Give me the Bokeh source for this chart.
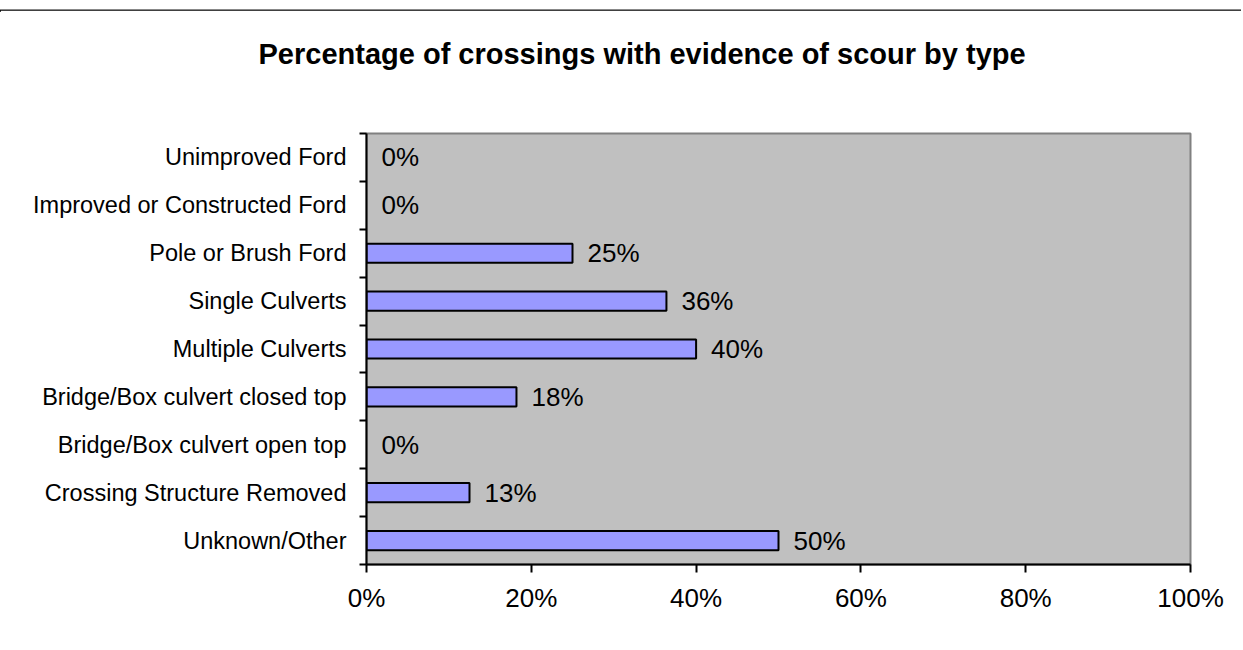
from bokeh.plotting import figure
from bokeh.models import Range1d, FixedTicker, PrintfTickFormatter, Title, Div
from bokeh.layouts import column
from bokeh.core.properties import value
from bokeh.embed import file_html
from bokeh.resources import INLINE

title = "Percentage of crossings with evidence of scour by type"
categories = [
    "Unimproved Ford",
    "Improved or Constructed Ford",
    "Pole or Brush Ford",
    "Single Culverts",
    "Multiple Culverts",
    "Bridge/Box culvert closed top",
    "Bridge/Box culvert open top",
    "Crossing Structure Removed",
    "Unknown/Other",
]
percent = [0, 0, 25, 36.4, 40, 18.2, 0, 12.5, 50]
x_ticks = [0, 20, 40, 60, 80, 100]

FONT = "Liberation Sans"
n = len(categories)
ycent = [n - 1 - i + 0.5 for i in range(n)]
labels = ["%d%%" % int(v + 0.5) for v in percent]

p = figure(width=1243, height=640, output_backend="svg", toolbar_location=None,
           title=None, x_range=Range1d(0, 100), y_range=Range1d(0, n),
           min_border_left=366, min_border_right=53, min_border_top=123,
           min_border_bottom=86)
p.background_fill_color = "#C0C0C0"
p.border_fill_color = "white"
p.outline_line_color = "#808080"
p.outline_line_width = 2
p.xgrid.visible = False
p.ygrid.visible = False

bx = [v for v in percent if v > 0]
by = [y for y, v in zip(ycent, percent) if v > 0]
p.hbar(y=by, right=bx, left=0, height=0.4, fill_color="#9999FF",
       line_color="black", line_width=2)

p.text(x=percent, y=ycent, text=labels, x_offset=15, text_baseline="middle",
       text_align="left", text_font=value(FONT), text_font_size="26px",
       text_color="black")

# axes
p.xaxis.ticker = FixedTicker(ticks=x_ticks)
p.xaxis.formatter = PrintfTickFormatter(format="%d%%")
p.xaxis.major_label_text_font = FONT
p.xaxis.major_label_text_font_size = "26px"
p.xaxis.major_label_text_color = "black"
p.xaxis.major_tick_out = 8
p.xaxis.major_tick_in = 0
p.xaxis.minor_tick_out = 0
p.xaxis.minor_tick_in = 0
p.xaxis.major_label_standoff = 10
p.xaxis.axis_line_width = 2
p.xaxis.major_tick_line_width = 2
p.xaxis.axis_line_color = "black"

p.yaxis.ticker = FixedTicker(ticks=ycent, minor_ticks=list(range(n + 1)))
p.yaxis.major_label_overrides = {y: c for y, c in zip(ycent, categories)}
p.yaxis.major_label_text_font = FONT
p.yaxis.major_label_text_font_size = "23.5px"
p.yaxis.major_label_text_color = "black"
p.yaxis.major_tick_out = 0
p.yaxis.major_tick_in = 0
p.yaxis.minor_tick_out = 7
p.yaxis.minor_tick_in = 0
p.yaxis.minor_tick_line_color = "black"
p.yaxis.minor_tick_line_width = 2
p.yaxis.major_label_standoff = 13
p.yaxis.axis_line_width = 2
p.yaxis.axis_line_color = "black"

# spacer panel between frame and title
p.add_layout(Title(text=" ", text_font=FONT, text_font_size="10px",
                   standoff=45), "above")
p.add_layout(Title(text=title, align="left", offset=-108, vertical_align="middle",
                   standoff=10, text_font=FONT, text_font_size="29px",
                   text_font_style="bold", text_color="black"), "above")

top = Div(text='<div style="margin-top:0px;border-top:1px solid #888;'
               'border-bottom:2px solid #000;width:1241px;height:0"></div>',
          width=1243, height=10, margin=(0, 0, 0, 0))

layout = column(top, p, spacing=0)
open("out.html", "w").write(file_html(layout, INLINE))
